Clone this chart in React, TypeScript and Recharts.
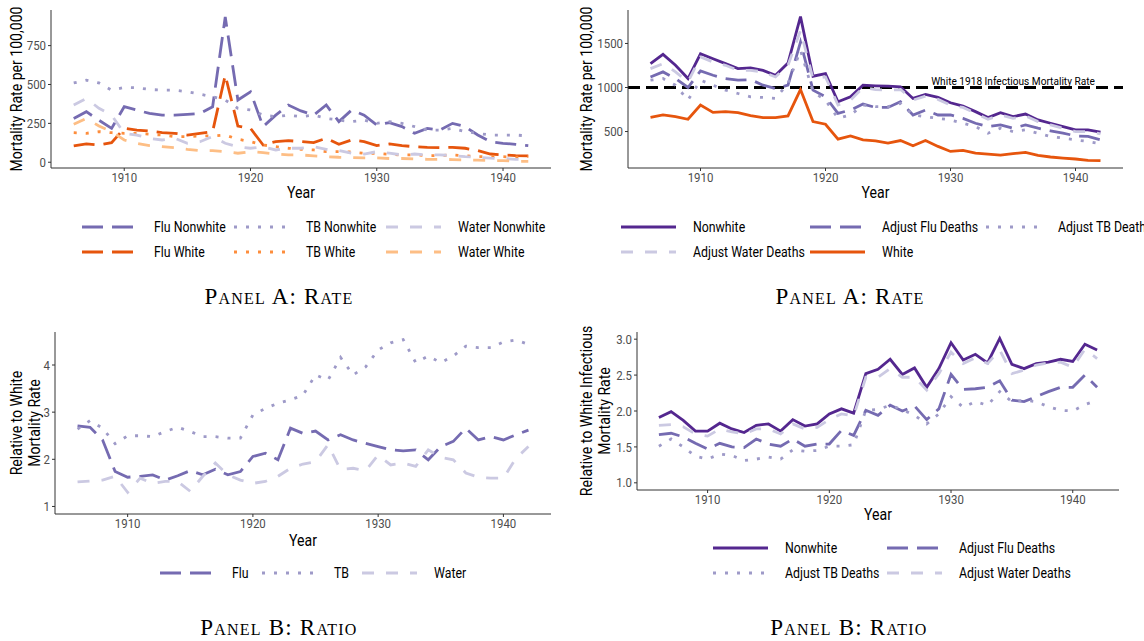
import React from "react";
import { LineChart, Line, XAxis, YAxis, ReferenceLine, ReferenceDot } from "recharts";

const years = [
  1906, 1907, 1908, 1909, 1910, 1911, 1912, 1913, 1914, 1915, 1916, 1917, 1918,
  1919, 1920, 1921, 1922, 1923, 1924, 1925, 1926, 1927, 1928, 1929, 1930, 1931,
  1932, 1933, 1934, 1935, 1936, 1937, 1938, 1939, 1940, 1941, 1942,
];

// Panel A, left: cause-specific rates
const fluNonwhite = [282, 325, 270, 218, 357, 335, 314, 303, 303, 308, 314, 357, 934, 400, 453, 229, 303, 368, 330, 303, 368, 261, 335, 303, 240, 255, 229, 186, 218, 207, 250, 229, 175, 132, 122, 115, 107];
const tbNonwhite = [510, 528, 510, 464, 481, 479, 468, 464, 464, 453, 438, 421, 400, 347, 336, 303, 293, 303, 293, 303, 282, 271, 261, 271, 250, 261, 250, 229, 207, 207, 218, 197, 186, 175, 175, 175, 169];
const waterNonwhite = [368, 410, 347, 303, 186, 175, 154, 143, 154, 122, 132, 165, 122, 100, 90, 100, 79, 90, 90, 100, 83, 75, 58, 53, 68, 58, 47, 53, 47, 47, 43, 36, 32, 26, 24, 19, 19];
const fluWhite = [105, 118, 111, 126, 218, 207, 201, 190, 186, 175, 186, 197, 560, 233, 218, 111, 133, 139, 133, 126, 154, 115, 143, 133, 107, 118, 107, 100, 96, 94, 96, 90, 75, 53, 47, 43, 41];
const tbWhite = [190, 186, 197, 190, 186, 186, 180, 175, 165, 165, 169, 169, 175, 148, 133, 111, 100, 90, 83, 79, 68, 68, 66, 58, 58, 51, 47, 47, 43, 43, 47, 41, 36, 36, 36, 32, 36];
const waterWhite = [244, 282, 233, 197, 143, 122, 107, 100, 94, 83, 75, 75, 68, 58, 68, 62, 53, 47, 47, 41, 36, 32, 30, 28, 28, 24, 24, 21, 19, 19, 17, 15, 13, 11, 11, 6, 6];

// Panel A, right: total infectious rates
const totNonwhite = [1271, 1376, 1252, 1102, 1383, 1327, 1271, 1214, 1222, 1195, 1139, 1278, 1805, 1128, 1158, 838, 895, 1026, 1019, 1015, 1008, 876, 921, 887, 827, 789, 726, 658, 714, 669, 699, 632, 594, 556, 519, 519, 492];
const adjFlu = [1120, 1177, 1102, 1000, 1188, 1139, 1102, 1083, 1090, 1026, 989, 1026, 1515, 970, 895, 707, 744, 812, 774, 774, 838, 688, 744, 688, 688, 650, 594, 556, 575, 538, 575, 538, 508, 481, 451, 444, 406];
const adjTb = [1083, 1102, 1026, 857, 1083, 1026, 970, 932, 895, 887, 876, 1045, 1421, 951, 857, 650, 688, 801, 782, 782, 820, 688, 669, 650, 632, 594, 556, 481, 538, 500, 519, 481, 444, 425, 406, 387, 361];
const adjWater = [1214, 1271, 1177, 1064, 1346, 1289, 1252, 1195, 1195, 1177, 1120, 1252, 1647, 1102, 1120, 801, 857, 1000, 977, 970, 977, 857, 902, 865, 801, 774, 707, 639, 688, 650, 677, 613, 575, 538, 500, 500, 474];
const totWhite = [662, 688, 669, 639, 801, 718, 726, 714, 680, 658, 658, 677, 977, 613, 583, 414, 451, 406, 395, 368, 398, 338, 398, 331, 274, 286, 256, 244, 233, 248, 263, 229, 211, 199, 188, 173, 169];

// Panel B, left: ratios by cause
const ratioFlu = [2.71, 2.68, 2.41, 1.74, 1.62, 1.64, 1.67, 1.56, 1.65, 1.76, 1.67, 1.79, 1.67, 1.74, 2.06, 2.13, 1.99, 2.66, 2.55, 2.6, 2.41, 2.52, 2.41, 2.34, 2.27, 2.2, 2.18, 2.2, 1.99, 2.27, 2.38, 2.66, 2.41, 2.48, 2.41, 2.52, 2.62];
const ratioTb = [2.64, 2.82, 2.66, 2.33, 2.5, 2.5, 2.48, 2.59, 2.68, 2.59, 2.48, 2.48, 2.45, 2.45, 2.94, 3.08, 3.19, 3.26, 3.36, 3.79, 3.68, 4.16, 3.79, 3.96, 4.32, 4.47, 4.54, 4.05, 4.19, 4.05, 4.19, 4.4, 4.37, 4.37, 4.49, 4.53, 4.44];
const ratioWater = [1.52, 1.54, 1.56, 1.64, 1.3, 1.6, 1.49, 1.53, 1.53, 1.32, 1.64, 1.92, 1.67, 1.56, 1.49, 1.53, 1.64, 1.81, 1.9, 1.95, 2.31, 1.78, 1.81, 1.76, 2.09, 1.88, 1.92, 1.85, 2.2, 2.04, 1.99, 1.71, 1.62, 1.6, 1.6, 2.02, 2.27];

// Panel B, right: adjusted total ratios
const ratioNonwhite = [1.91, 1.99, 1.87, 1.72, 1.72, 1.83, 1.75, 1.7, 1.8, 1.82, 1.72, 1.88, 1.79, 1.82, 1.96, 2.03, 1.97, 2.52, 2.58, 2.72, 2.51, 2.6, 2.33, 2.59, 2.95, 2.71, 2.79, 2.67, 3.01, 2.65, 2.59, 2.66, 2.68, 2.72, 2.69, 2.93, 2.85];
const ratioAdjFlu = [1.67, 1.69, 1.64, 1.55, 1.47, 1.55, 1.5, 1.49, 1.61, 1.54, 1.51, 1.61, 1.51, 1.54, 1.54, 1.73, 1.66, 2.01, 1.94, 2.08, 2.0, 2.07, 1.88, 2.03, 2.51, 2.3, 2.31, 2.33, 2.42, 2.15, 2.13, 2.2, 2.27, 2.33, 2.33, 2.5, 2.33];
const ratioAdjTb = [1.51, 1.61, 1.5, 1.37, 1.33, 1.4, 1.38, 1.31, 1.33, 1.36, 1.33, 1.46, 1.44, 1.45, 1.51, 1.51, 1.53, 2.01, 2.02, 2.08, 2.02, 1.94, 1.82, 1.96, 2.2, 2.05, 2.13, 2.08, 2.27, 2.13, 2.15, 2.13, 2.06, 2.01, 2.0, 2.09, 2.15];
const ratioAdjWater = [1.8, 1.81, 1.78, 1.68, 1.65, 1.75, 1.71, 1.68, 1.75, 1.75, 1.68, 1.82, 1.75, 1.77, 1.88, 1.96, 1.93, 2.47, 2.47, 2.59, 2.47, 2.47, 2.29, 2.52, 2.82, 2.66, 2.74, 2.66, 2.85, 2.52, 2.57, 2.64, 2.67, 2.68, 2.61, 2.86, 2.73];

const xTicks = [1910, 1920, 1930, 1940];
const xDomain = [1904.2, 1943.8];

// no condensed face installed, so Roboto gets squeezed horizontally
const FONT = "Roboto, sans-serif";
const SX = 0.88;
const SERIF = '"Liberation Serif", "Times New Roman", serif';

const DARK = "#54278f";
const MID = "#756bb1";
const LIGHT = "#9e9ac8";
const PALE = "#cbc9e2";
const ORANGE = "#e6550d";
const ORANGE2 = "#fd8d3c";
const ORANGE3 = "#fdbe85";

const LONG = "21 9";
const DASH = "12 12";
const DOT = "3 9";
const LW = 2.8;
const PAD = 8; // spare room under the x title

type Series = { key: string; label: string; color: string; dash?: string; values: number[] };

const seriesA1: Series[] = [
  { key: "fluNW", label: "Flu Nonwhite", color: MID, dash: LONG, values: fluNonwhite },
  { key: "fluW", label: "Flu White", color: ORANGE, dash: LONG, values: fluWhite },
  { key: "tbNW", label: "TB Nonwhite", color: LIGHT, dash: DOT, values: tbNonwhite },
  { key: "tbW", label: "TB White", color: ORANGE2, dash: DOT, values: tbWhite },
  { key: "waNW", label: "Water Nonwhite", color: PALE, dash: DASH, values: waterNonwhite },
  { key: "waW", label: "Water White", color: ORANGE3, dash: DASH, values: waterWhite },
];
const seriesA2: Series[] = [
  { key: "nw", label: "Nonwhite", color: DARK, values: totNonwhite },
  { key: "flu", label: "Adjust Flu Deaths", color: MID, dash: LONG, values: adjFlu },
  { key: "tb", label: "Adjust TB Deaths", color: LIGHT, dash: DOT, values: adjTb },
  { key: "water", label: "Adjust Water Deaths", color: PALE, dash: DASH, values: adjWater },
  { key: "w", label: "White", color: ORANGE, values: totWhite },
];
const seriesB1: Series[] = [
  { key: "flu", label: "Flu", color: MID, dash: LONG, values: ratioFlu },
  { key: "tb", label: "TB", color: LIGHT, dash: DOT, values: ratioTb },
  { key: "water", label: "Water", color: PALE, dash: DASH, values: ratioWater },
];
const seriesB2: Series[] = [
  { key: "nw", label: "Nonwhite", color: DARK, values: ratioNonwhite },
  { key: "flu", label: "Adjust Flu Deaths", color: MID, dash: LONG, values: ratioAdjFlu },
  { key: "tb", label: "Adjust TB Deaths", color: LIGHT, dash: DOT, values: ratioAdjTb },
  { key: "water", label: "Adjust Water Deaths", color: PALE, dash: DASH, values: ratioAdjWater },
];

function rows(series: Series[]) {
  return years.map((year, i) => {
    const r: Record<string, number> = { year };
    series.forEach((s) => (r[s.key] = s.values[i]));
    return r;
  });
}

function XTick(props: any) {
  const { x, y, payload } = props;
  return (
    <text
      transform={`translate(${x} ${y}) scale(${SX} 1)`}
      textAnchor="middle"
      dy="0.71em"
      fontFamily={FONT}
      fontSize={13}
      fill="#4d4d4d"
    >
      {payload.value}
    </text>
  );
}

function YTick(props: any) {
  const { x, y, payload, fmt } = props;
  return (
    <text
      transform={`translate(${x} ${y}) scale(${SX} 1)`}
      textAnchor="end"
      dy="0.355em"
      fontFamily={FONT}
      fontSize={13}
      fill="#4d4d4d"
    >
      {fmt ? fmt(payload.value) : payload.value}
    </text>
  );
}

function YTitle(props: any) {
  const { viewBox, lines, dx } = props;
  const { x, y, height } = viewBox;
  const px = x + dx;
  const cy = y + height / 2;
  return (
    <g transform={`translate(${px} ${cy}) rotate(-90) scale(${SX} 1)`}>
      {lines.map((l: string, i: number) => (
        <text key={i} x={0} y={i * 18} textAnchor="middle" fontFamily={FONT} fontSize={16} fill="#000">
          {l}
        </text>
      ))}
    </g>
  );
}

function XTitle(props: any) {
  const { viewBox, dy } = props;
  const { x, y, width } = viewBox;
  return (
    <text
      transform={`translate(${x + width / 2} ${y + dy}) scale(${SX} 1)`}
      textAnchor="middle"
      fontFamily={FONT}
      fontSize={16}
      fill="#000"
    >
      Year
    </text>
  );
}

function RefLabel(props: any) {
  const { viewBox } = props;
  const cx = viewBox.x + viewBox.width / 2;
  return (
    <text
      transform={`translate(${cx} ${viewBox.y - 3}) scale(${SX} 1)`}
      textAnchor="middle"
      fontFamily={FONT}
      fontSize={11.5}
      fill="#000"
    >
      White 1918 Infectious Mortality Rate
    </text>
  );
}

type PanelProps = {
  left: number;
  top: number;
  width: number;
  plotBottom: number;
  yWidth: number;
  marginTop: number;
  marginRight: number;
  yearDy: number;
  domain: number[];
  ticks: number[];
  fmt?: (v: number) => string;
  yLines: string[];
  yDx: number;
  series: Series[];
  children?: React.ReactNode;
};

function Panel(p: PanelProps) {
  return (
    <div style={{ position: "absolute", left: p.left, top: p.top }}>
      <LineChart
        width={p.width}
        height={p.plotBottom + 34 + PAD}
        data={rows(p.series)}
        margin={{ top: p.marginTop, right: p.marginRight, bottom: PAD, left: 0 }}
      >
        <XAxis
          dataKey="year"
          type="number"
          domain={xDomain}
          ticks={xTicks}
          interval={0}
          allowDataOverflow
          height={34}
          tick={<XTick />}
          tickSize={3}
          tickMargin={2}
          axisLine={{ stroke: "#333", strokeWidth: 1 }}
          tickLine={{ stroke: "#333" }}
          label={<XTitle dy={p.yearDy} />}
        />
        <YAxis
          type="number"
          domain={p.domain}
          ticks={p.ticks}
          interval={0}
          allowDataOverflow
          width={p.yWidth}
          tick={<YTick fmt={p.fmt} />}
          tickSize={3}
          tickMargin={2}
          axisLine={{ stroke: "#333", strokeWidth: 1 }}
          tickLine={{ stroke: "#333" }}
          label={<YTitle lines={p.yLines} dx={p.yDx} />}
        />
        {p.children}
        {p.series.map((s) => (
          <Line
            key={s.key}
            dataKey={s.key}
            type="linear"
            stroke={s.color}
            strokeWidth={LW}
            strokeDasharray={s.dash}
            dot={false}
            activeDot={false}
            isAnimationActive={false}
          />
        ))}
      </LineChart>
    </div>
  );
}

type LegendItem = { x: number; y: number; s: Series };

function Key({ x, y, s }: LegendItem) {
  return (
    <g>
      <line x1={x} x2={x + 55} y1={y} y2={y} stroke={s.color} strokeWidth={LW} strokeDasharray={s.dash} />
      <text
        transform={`translate(${x + 72} ${y}) scale(${SX} 1)`}
        dominantBaseline="central"
        fontFamily={FONT}
        fontSize={14}
        fill="#000"
      >
        {s.label}
      </text>
    </g>
  );
}

const bySeries = (list: Series[], key: string) => list.find((s) => s.key === key) as Series;

export default function App() {
  const legendItems: LegendItem[] = [
    { x: 82, y: 227, s: bySeries(seriesA1, "fluNW") },
    { x: 234, y: 227, s: bySeries(seriesA1, "tbNW") },
    { x: 386, y: 227, s: bySeries(seriesA1, "waNW") },
    { x: 82, y: 252, s: bySeries(seriesA1, "fluW") },
    { x: 234, y: 252, s: bySeries(seriesA1, "tbW") },
    { x: 386, y: 252, s: bySeries(seriesA1, "waW") },
    { x: 621, y: 227, s: bySeries(seriesA2, "nw") },
    { x: 810, y: 227, s: bySeries(seriesA2, "flu") },
    { x: 986, y: 227, s: bySeries(seriesA2, "tb") },
    { x: 621, y: 252, s: bySeries(seriesA2, "water") },
    { x: 810, y: 252, s: bySeries(seriesA2, "w") },
    { x: 160, y: 573, s: bySeries(seriesB1, "flu") },
    { x: 262, y: 573, s: bySeries(seriesB1, "tb") },
    { x: 362, y: 573, s: bySeries(seriesB1, "water") },
    { x: 713, y: 548, s: bySeries(seriesB2, "nw") },
    { x: 887, y: 548, s: bySeries(seriesB2, "flu") },
    { x: 713, y: 573, s: bySeries(seriesB2, "tb") },
    { x: 887, y: 573, s: bySeries(seriesB2, "water") },
  ];
  const captions = [
    { x: 279, y: 304, text: "Panel A: Rate" },
    { x: 850, y: 304, text: "Panel A: Rate" },
    { x: 279, y: 635, text: "Panel B: Ratio" },
    { x: 849, y: 635, text: "Panel B: Ratio" },
  ];

  return (
    <div
      style={{
        position: "absolute",
        left: 0,
        top: 0,
        width: 1144,
        height: 641,
        overflow: "hidden",
        background: "#fff",
      }}
    >
      <Panel
        left={0}
        top={0}
        width={560}
        plotBottom={168}
        yWidth={51}
        marginTop={10}
        marginRight={9}
        yearDy={30}
        domain={[-37, 979]}
        ticks={[0, 250, 500, 750]}
        yLines={["Mortality Rate per 100,000"]}
        yDx={22}
        series={seriesA1}
      />
      <Panel
        left={570}
        top={0}
        width={560}
        plotBottom={168}
        yWidth={58}
        marginTop={10}
        marginRight={7}
        yearDy={30}
        domain={[86, 1880]}
        ticks={[500, 1000, 1500]}
        yLines={["Mortality Rate per 100,000"]}
        yDx={22}
        series={seriesA2}
      >
        <ReferenceLine y={1000} stroke="#000" strokeWidth={2.8} strokeDasharray="12 6" />
        <ReferenceDot x={1935} y={1000} r={0} fill="none" stroke="none" label={<RefLabel />} />
      </Panel>
      <Panel
        left={0}
        top={320}
        width={560}
        plotBottom={194}
        yWidth={55}
        marginTop={12}
        marginRight={9}
        yearDy={32}
        domain={[0.84, 4.7]}
        ticks={[1, 2, 3, 4]}
        yLines={["Relative to White", "Mortality Rate"]}
        yDx={22}
        series={seriesB1}
      />
      <Panel
        left={570}
        top={320}
        width={560}
        plotBottom={170}
        yWidth={67}
        marginTop={12}
        marginRight={11}
        yearDy={30}
        domain={[0.9, 3.1]}
        ticks={[1, 1.5, 2, 2.5, 3]}
        fmt={(v: number) => v.toFixed(1)}
        yLines={["Relative to White Infectious", "Mortality Rate"]}
        yDx={22}
        series={seriesB2}
      />
      <svg
        width={1144}
        height={641}
        style={{ position: "absolute", left: 0, top: 0, pointerEvents: "none" }}
      >
        {legendItems.map((it, i) => (
          <Key key={i} {...it} />
        ))}
        {captions.map((c, i) => (
          <text
            key={i}
            x={c.x}
            y={c.y}
            textAnchor="middle"
            fontFamily={SERIF}
            fontSize={23}
            letterSpacing={1.2}
            fill="#000"
            style={{ fontVariant: "small-caps" }}
          >
            {c.text}
          </text>
        ))}
      </svg>
    </div>
  );
}
